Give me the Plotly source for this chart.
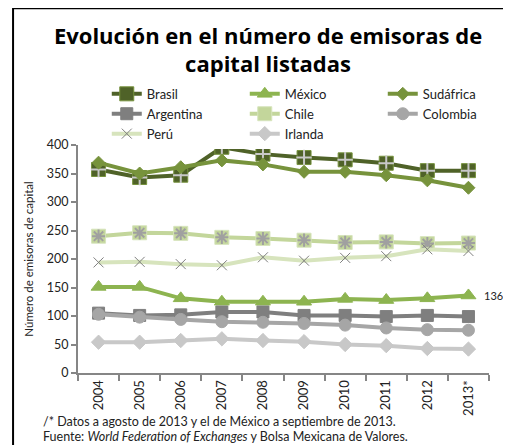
import plotly.graph_objects as go

# Datos
anios = ["2004", "2005", "2006", "2007", "2008", "2009", "2010", "2011", "2012", "2013*"]
brasil = [357, 343, 347, 396, 384, 378, 374, 368, 355, 355]
mexico = [151, 151, 131, 125, 125, 125, 130, 128, 131, 136]
sudafrica = [369, 350, 361, 373, 366, 353, 353, 347, 338, 325]
argentina = [105, 101, 102, 107, 107, 101, 101, 99, 101, 99]
chile = [240, 246, 245, 238, 236, 233, 229, 230, 227, 228]
colombia = [103, 98, 94, 90, 89, 87, 84, 79, 76, 75]
peru = [194, 195, 191, 189, 203, 197, 202, 205, 217, 214]
irlanda = [54, 54, 57, 60, 57, 55, 50, 48, 43, 42]

nota = "/* Datos a agosto de 2013 y el de México a septiembre de 2013."
fuente = "Fuente: <i>World Federation of Exchanges</i> y Bolsa Mexicana de Valores."

fig = go.Figure()


def serie(nombre, y, color, simbolo, tam, mcolor=None, mline=None, leyenda=True):
    fig.add_trace(go.Scatter(
        x=anios, y=y, name=nombre, mode="lines+markers", showlegend=leyenda,
        cliponaxis=False,
        line=dict(color=color, width=4),
        marker=dict(symbol=simbolo, size=tam, color=mcolor or color,
                    line=dict(color=mline or mcolor or color, width=1)),
    ))


def sobremarca(y, simbolo, color, tam):
    fig.add_trace(go.Scatter(
        x=anios, y=y, mode="markers", showlegend=False, hoverinfo="skip",
        cliponaxis=False,
        marker=dict(symbol=simbolo, size=tam, color=color,
                    line=dict(color=color, width=2)),
    ))


serie("Brasil", brasil, "#4F6228", "square", 14, mline="#76923C")
sobremarca(brasil, "cross-thin-open", "#C8C8C8", 11)
serie("México", mexico, "#8DB450", "triangle-up", 13)
serie("Sudáfrica", sudafrica, "#77933C", "diamond", 10)
serie("Argentina", argentina, "#7F7F7F", "square", 12)
serie("Chile", chile, "#C3D69B", "square", 14, mline="#D7E4BD")
sobremarca(chile, "asterisk-open", "#A0A0A0", 11)
serie("Colombia", colombia, "#A6A6A6", "circle", 12)
serie("Perú", peru, "#D7E4BD", "x-thin-open", 10, mcolor="#7F7F7F")
serie("Irlanda", irlanda, "#C8C8C8", "diamond", 11)

fig.add_annotation(x=anios[-1], y=mexico[-1], text=str(mexico[-1]),
                   xshift=14, xanchor="left", showarrow=False,
                   font=dict(family="Lato", size=11, color="#222222"))

for texto, yy in [(nota, -0.214), (fuente, -0.279)]:
    fig.add_annotation(
        xref="paper", yref="paper", x=-0.09, y=yy, xanchor="left", yanchor="middle",
        align="left", showarrow=False, text=texto,
        font=dict(family="Lato", size=12.5, color="#222222"),
    )

# marco exterior
fig.add_shape(type="rect", xref="paper", yref="paper",
              x0=-0.158, x1=1.1, y0=-0.5, y1=1.60,
              line=dict(color="black", width=2))

# la página añade 8 px de margen al cuerpo: la figura se reduce para que quepa
fig.update_layout(
    width=503, height=437,
    margin=dict(l=70, r=22, t=137, b=72, autoexpand=False),
    paper_bgcolor="white", plot_bgcolor="white",
    title=dict(text="<b>Evolución en el número de emisoras de<br>capital listadas</b>",
               x=0.517, xanchor="center", y=0.9185, yanchor="top",
               font=dict(family="Open Sans", size=22, color="black")),
    legend=dict(orientation="h", x=0.07, xanchor="left", y=1.29, yanchor="top",
                entrywidth=93, entrywidthmode="pixels", tracegroupgap=0,
                font=dict(family="Lato", size=13, color="#222222")),
    xaxis=dict(type="category", range=[-0.5, 9.5], tickson="boundaries",
               ticks="outside", ticklen=6, tickwidth=2, tickcolor="#868686",
               showline=True, linecolor="#868686", linewidth=2,
               showgrid=False, tickangle=-90,
               tickfont=dict(family="Lato", size=13, color="#222222")),
    yaxis=dict(range=[0, 400], dtick=50, ticks="outside", ticklen=5,
               tickwidth=2, tickcolor="#868686",
               showline=True, linecolor="#868686", linewidth=2,
               showgrid=False, zeroline=False,
               title=dict(text="Número de emisoras de capital", standoff=11,
                          font=dict(family="Lato", size=11.5, color="#222222")),
               tickfont=dict(family="Lato", size=12.5, color="#222222")),
    showlegend=True,
)

fig.write_html("out.html")
